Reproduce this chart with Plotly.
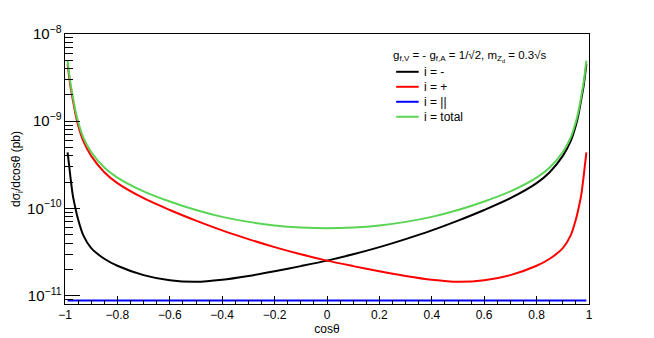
import plotly.graph_objects as go

# cos(theta) sampling points
costh = [-0.99, -0.98, -0.97, -0.96, -0.95, -0.93, -0.9, -0.85, -0.8, -0.7, -0.6,
         -0.5, -0.4, -0.3, -0.2, -0.1, 0.0, 0.1, 0.2, 0.3, 0.4, 0.5, 0.6, 0.7,
         0.8, 0.85, 0.9, 0.93, 0.95, 0.96, 0.97, 0.98, 0.99]

# dsigma_i/dcos(theta) in pb
sig_minus = [4.4e-10, 2.4e-10, 1.4e-10, 1.0e-10, 7.5e-11, 4.9e-11, 3.5e-11, 2.65e-11,
             2.2e-11, 1.72e-11, 1.5e-11, 1.44e-11, 1.52e-11, 1.68e-11, 1.9e-11,
             2.18e-11, 2.52e-11, 2.98e-11, 3.6e-11, 4.45e-11, 5.6e-11, 7.25e-11, 9.6e-11,
             1.31e-10, 1.95e-10, 2.6e-10, 4.0e-10, 5.9e-10, 9.0e-10, 1.2e-9, 1.75e-9,
             2.6e-9, 4.5e-9]
sig_plus = [4.5e-9, 2.6e-9, 1.75e-9, 1.2e-9, 9.0e-10, 5.9e-10, 4.0e-10, 2.6e-10,
            1.95e-10, 1.31e-10, 9.6e-11, 7.25e-11, 5.6e-11, 4.45e-11, 3.6e-11, 2.98e-11,
            2.52e-11, 2.18e-11, 1.9e-11, 1.68e-11, 1.52e-11, 1.44e-11, 1.5e-11,
            1.72e-11, 2.2e-11, 2.65e-11, 3.5e-11, 4.9e-11, 7.5e-11, 1.0e-10, 1.4e-10,
            2.4e-10, 4.4e-10]
sig_para = [8.8e-12] * 33
sig_total = [4.95e-9, 2.85e-9, 1.9e-9, 1.31e-9, 9.84e-10, 6.48e-10, 4.44e-10, 2.95e-10,
             2.26e-10, 1.57e-10, 1.2e-10, 9.57e-11, 8.0e-11, 7.01e-11, 6.38e-11,
             6.04e-11, 5.92e-11, 6.04e-11, 6.38e-11, 7.01e-11, 8.0e-11, 9.57e-11,
             1.2e-10, 1.57e-10, 2.26e-10, 2.95e-10, 4.44e-10, 6.48e-10, 9.84e-10,
             1.31e-9, 1.9e-9, 2.85e-9, 4.95e-9]

labels = ["i = -", "i = +", "i = ||", "i = total"]
colors = ["#000000", "#ff0000", "#0000ff", "#59d454"]
series = [sig_minus, sig_plus, sig_para, sig_total]

FONT = "Liberation Sans, Arial, sans-serif"
YRANGE = [-11.096, -8]

fig = go.Figure()
for ys, c in zip(series, colors):
    fig.add_trace(go.Scatter(x=costh, y=ys, mode="lines",
                             line=dict(color=c, width=2, shape="spline", smoothing=0.8),
                             showlegend=False))

# legend drawn by hand so it keeps ROOT's tight spacing
leg_top = 0.86
for k, (lab, c) in enumerate(zip(labels, colors)):
    yy = leg_top - k * 0.0555
    fig.add_shape(type="line", xref="paper", yref="paper", x0=0.632, x1=0.675,
                  y0=yy, y1=yy, line=dict(color=c, width=2))
    fig.add_annotation(xref="paper", yref="paper", x=0.682, y=yy, text=lab,
                       showarrow=False, xanchor="left", yanchor="middle",
                       font=dict(size=12, color="black", family=FONT))
fig.add_annotation(xref="paper", yref="paper", x=0.622, y=0.918,
                   text="g<sub>f,V</sub> = - g<sub>f,A</sub> = 1/√2, m<sub>Z<sub>d</sub></sub> = 0.3√s",
                   showarrow=False, xanchor="left", yanchor="middle",
                   font=dict(size=11.5, color="black", family=FONT))

common = dict(showgrid=False, zeroline=False, showline=True, linecolor="black",
              linewidth=1, tickcolor="black", ticks="inside", automargin=False)

fig.update_layout(
    width=654, height=338,
    margin=dict(l=65, r=65, t=34, b=34),
    paper_bgcolor="white", plot_bgcolor="white",
    font=dict(family=FONT, size=12, color="black"),
    xaxis=dict(range=[-1, 1], dtick=0.2, ticklen=8, mirror=True,
               minor=dict(dtick=0.05, ticks="inside", ticklen=4, tickcolor="black"),
               title=dict(text="cosθ", standoff=3, font=dict(size=12)), **common),
    yaxis=dict(type="log", range=YRANGE, dtick=1, exponentformat="power",
               ticklen=15, mirror=True,
               minor=dict(dtick="D1", ticks="inside", ticklen=8, tickcolor="black"),
               title=dict(text="dσ<sub>i</sub>/dcosθ (pb)", standoff=3, font=dict(size=12)),
               **common),
    # copies on top / right carry the mirrored ticks
    xaxis2=dict(range=[-1, 1], dtick=0.2, ticklen=8, overlaying="x", side="top",
                showticklabels=False, anchor="y",
                minor=dict(dtick=0.05, ticks="inside", ticklen=4, tickcolor="black"),
                **common),
    yaxis2=dict(type="log", range=YRANGE, dtick=1, ticklen=15, overlaying="y",
                side="right", showticklabels=False, anchor="x",
                minor=dict(dtick="D1", ticks="inside", ticklen=8, tickcolor="black"),
                **common),
)

# drop the page's default body margin so the figure sits at the window origin
fig.write_html("out.html", config={"displayModeBar": False},
               post_script="document.body.style.margin='0px';")
